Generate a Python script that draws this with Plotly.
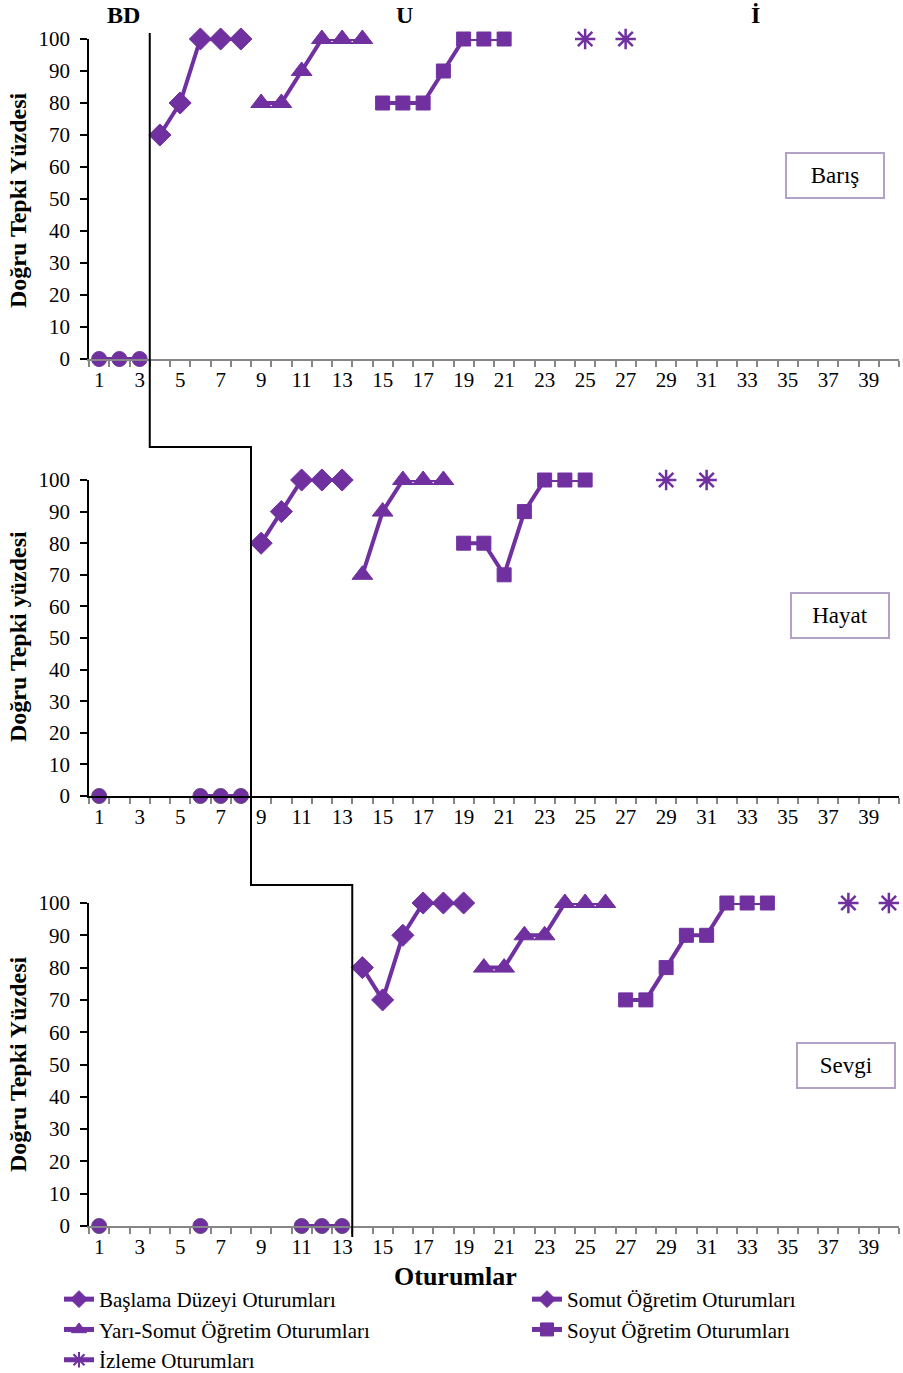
import plotly.graph_objects as go

W, H = 903, 1373
ML, MR, MT, MB = 89, 4, 0, 100
PW = W - ML - MR
PH = H - MT - MB

PURPLE = "#7030A0"
FONT = "Liberation Serif"

# ---------------- data ----------------
sessions_range = [0.5, 40.5]
tick_sessions = list(range(1, 40, 2))
y_ticks = list(range(0, 101, 10))

series_names = ["Başlama Düzeyi Oturumları", "Somut Öğretim Oturumları",
                "Yarı-Somut Öğretim Oturumları", "Soyut Öğretim Oturumları",
                "İzleme Oturumları"]
series_symbols = ["circle", "diamond", "triangle-up", "square", "asterisk-open"]
legend_symbols = ["diamond", "diamond", "triangle-up", "square", "asterisk-open"]
legend_column = ["legend", "legend2", "legend", "legend2", "legend"]

# Barış
baris_bl_x = [1, 2, 3]
baris_bl_y = [0, 0, 0]
baris_somut_x = [4, 5, 6, 7, 8]
baris_somut_y = [70, 80, 100, 100, 100]
baris_yari_x = [9, 10, 11, 12, 13, 14]
baris_yari_y = [80, 80, 90, 100, 100, 100]
baris_soyut_x = [15, 16, 17, 18, 19, 20, 21]
baris_soyut_y = [80, 80, 80, 90, 100, 100, 100]
baris_izl_x = [25, 27]
baris_izl_y = [100, 100]

# Hayat
hayat_bl_x = [1, 6, 7, 8]
hayat_bl_y = [0, 0, 0, 0]
hayat_somut_x = [9, 10, 11, 12, 13]
hayat_somut_y = [80, 90, 100, 100, 100]
hayat_yari_x = [14, 15, 16, 17, 18]
hayat_yari_y = [70, 90, 100, 100, 100]
hayat_soyut_x = [19, 20, 21, 22, 23, 24, 25]
hayat_soyut_y = [80, 80, 70, 90, 100, 100, 100]
hayat_izl_x = [29, 31]
hayat_izl_y = [100, 100]

# Sevgi
sevgi_bl_x = [1, 6, 11, 12, 13]
sevgi_bl_y = [0, 0, 0, 0, 0]
sevgi_somut_x = [14, 15, 16, 17, 18, 19]
sevgi_somut_y = [80, 70, 90, 100, 100, 100]
sevgi_yari_x = [20, 21, 22, 23, 24, 25, 26]
sevgi_yari_y = [80, 80, 90, 90, 100, 100, 100]
sevgi_soyut_x = [27, 28, 29, 30, 31, 32, 33, 34]
sevgi_soyut_y = [70, 70, 80, 90, 90, 100, 100, 100]
sevgi_izl_x = [38, 40]
sevgi_izl_y = [100, 100]

phase_changes = [3.5, 8.5, 13.5]
panel_labels = ["Barış", "Hayat", "Sevgi"]
y_titles = ["Doğru Tepki Yüzdesi", "Doğru Tepki yüzdesi", "Doğru Tepki Yüzdesi"]
phase_headers = ["BD", "U", "İ"]
phase_header_x = [2.18, 16.1, 33.4]

panels = [
    [(baris_bl_x, baris_bl_y), (baris_somut_x, baris_somut_y), (baris_yari_x, baris_yari_y),
     (baris_soyut_x, baris_soyut_y), (baris_izl_x, baris_izl_y)],
    [(hayat_bl_x, hayat_bl_y), (hayat_somut_x, hayat_somut_y), (hayat_yari_x, hayat_yari_y),
     (hayat_soyut_x, hayat_soyut_y), (hayat_izl_x, hayat_izl_y)],
    [(sevgi_bl_x, sevgi_bl_y), (sevgi_somut_x, sevgi_somut_y), (sevgi_yari_x, sevgi_yari_y),
     (sevgi_soyut_x, sevgi_soyut_y), (sevgi_izl_x, sevgi_izl_y)],
]

# ---------------- layout helpers ----------------
def py(p):
    return 1 - (p - MT) / PH

def px(p):
    return (p - ML) / PW

def with_gaps(xs, ys):
    ox, oy = [], []
    for i, (a, b) in enumerate(zip(xs, ys)):
        if i > 0 and a - xs[i - 1] > 1:
            ox.append(None)
            oy.append(None)
        ox.append(a)
        oy.append(b)
    return ox, oy

# pixel geometry of panels: (top y=100, bottom y=0)
panel_px = [(39, 359), (480, 796), (903, 1226)]
ytitle_px = [200, 637, 1064]
box_px = [(835, 175), (840, 615), (846, 1065)]
marker_sizes = [15, 17, 18, 14, 17]

fig = go.Figure()

for pi, panel in enumerate(panels):
    xa = "x" if pi == 0 else f"x{pi+1}"
    ya = "y" if pi == 0 else f"y{pi+1}"
    for si, (xs, ys) in enumerate(panel):
        gx, gy = with_gaps(xs, ys)
        sym = series_symbols[si]
        mline = dict(color=PURPLE, width=2.5 if sym == "asterisk-open" else 1)
        if si == 0 and pi > 0:
            mline = dict(color="#604A7B", width=1)
        fig.add_trace(go.Scatter(
            x=gx, y=gy, xaxis=xa, yaxis=ya,
            mode="lines+markers",
            line=dict(color=PURPLE, width=4),
            marker=dict(symbol=sym, size=marker_sizes[si], color=PURPLE, line=mline),
            cliponaxis=False, showlegend=False, hoverinfo="x+y",
            name=series_names[si],
        ))

for si, name in enumerate(series_names):
    sym = legend_symbols[si]
    fig.add_trace(go.Scatter(
        x=[None], y=[None], mode="lines+markers", name=name,
        line=dict(color=PURPLE, width=5),
        marker=dict(symbol=sym, size=13, color=PURPLE,
                    line=dict(color=PURPLE, width=2 if sym == "asterisk-open" else 1)),
        showlegend=True, legend=legend_column[si],
    ))

legend_common = dict(orientation="v", yanchor="top", xanchor="left",
                     font=dict(family=FONT, size=21, color="black"),
                     bgcolor="rgba(0,0,0,0)", traceorder="normal")

layout = dict(
    width=W, height=H,
    margin=dict(l=ML, r=MR, t=MT, b=MB, autoexpand=False),
    paper_bgcolor="white", plot_bgcolor="white",
    font=dict(family=FONT, size=20, color="black"),
    showlegend=True,
    legend=dict(x=px(59), y=py(1279), **legend_common),
    legend2=dict(x=px(527), y=py(1279), **legend_common),
)

for pi in range(3):
    top, bot = panel_px[pi]
    sx = "" if pi == 0 else str(pi + 1)
    layout[f"xaxis{sx}"] = dict(
        domain=[0, 1], anchor=f"y{sx}", range=sessions_range,
        tickmode="array", tickvals=tick_sessions, ticktext=[str(t) for t in tick_sessions],
        ticks="outside", ticklen=1, tickcolor="rgba(0,0,0,0)",
        minor=dict(tick0=0.5, dtick=1, ticks="outside", ticklen=6, tickcolor="#868686", tickwidth=1.5),
        showline=True, linecolor=("black" if pi == 1 else "#868686"), linewidth=2,
        showgrid=False, zeroline=False,
        tickfont=dict(family=FONT, size=21, color="black"),
    )
    layout[f"yaxis{sx}"] = dict(
        domain=[py(bot), py(top)], anchor=f"x{sx}", range=[0, 100],
        tickmode="array", tickvals=y_ticks,
        ticks="outside", ticklen=7, tickcolor="black", tickwidth=1.5,
        ticklabelstandoff=6,
        showline=True, linecolor="black", linewidth=1.5,
        showgrid=False, zeroline=False,
        tickfont=dict(family=FONT, size=21, color="black"),
    )

fig.update_layout(**layout)

annotations = []
for pi in range(3):
    annotations.append(dict(
        text=f"<b>{y_titles[pi]}</b>", xref="paper", yref="paper",
        x=px(18), y=py(ytitle_px[pi]), textangle=-90, showarrow=False,
        font=dict(family=FONT, size=24, color="black"), xanchor="center", yanchor="middle",
    ))
    bx, by = box_px[pi]
    annotations.append(dict(
        text=panel_labels[pi], xref="paper", yref="paper",
        x=px(bx), y=py(by), showarrow=False,
        font=dict(family=FONT, size=23, color="black"),
        width=96, height=43, borderpad=0, borderwidth=2, bordercolor="#B3A2C7",
        bgcolor="white", xanchor="center", yanchor="middle",
    ))
for hi, h in enumerate(phase_headers):
    annotations.append(dict(
        text=f"<b>{h}</b>", xref="x", yref="paper", x=phase_header_x[hi], y=py(15),
        showarrow=False, font=dict(family=FONT, size=24, color="black"),
        xanchor="center", yanchor="middle",
    ))
annotations.append(dict(
    text="<b>Oturumlar</b>", xref="paper", yref="paper", x=px(455), y=py(1276),
    showarrow=False, font=dict(family=FONT, size=26, color="black"),
    xanchor="center", yanchor="middle",
))
fig.update_layout(annotations=annotations)

# phase-change line
ys_px = [33, 447, 885, 1237]
path = f"M {phase_changes[0]},{py(ys_px[0])} L {phase_changes[0]},{py(ys_px[1])} " \
       f"L {phase_changes[1]},{py(ys_px[1])} L {phase_changes[1]},{py(ys_px[2])} " \
       f"L {phase_changes[2]},{py(ys_px[2])} L {phase_changes[2]},{py(ys_px[3])}"
fig.add_shape(type="path", path=path, xref="x", yref="paper",
              line=dict(color="black", width=2))

fig.write_html("out.html", config={"displayModeBar": False},
               post_script="document.body.style.margin='0';document.documentElement.style.overflow='hidden';")
